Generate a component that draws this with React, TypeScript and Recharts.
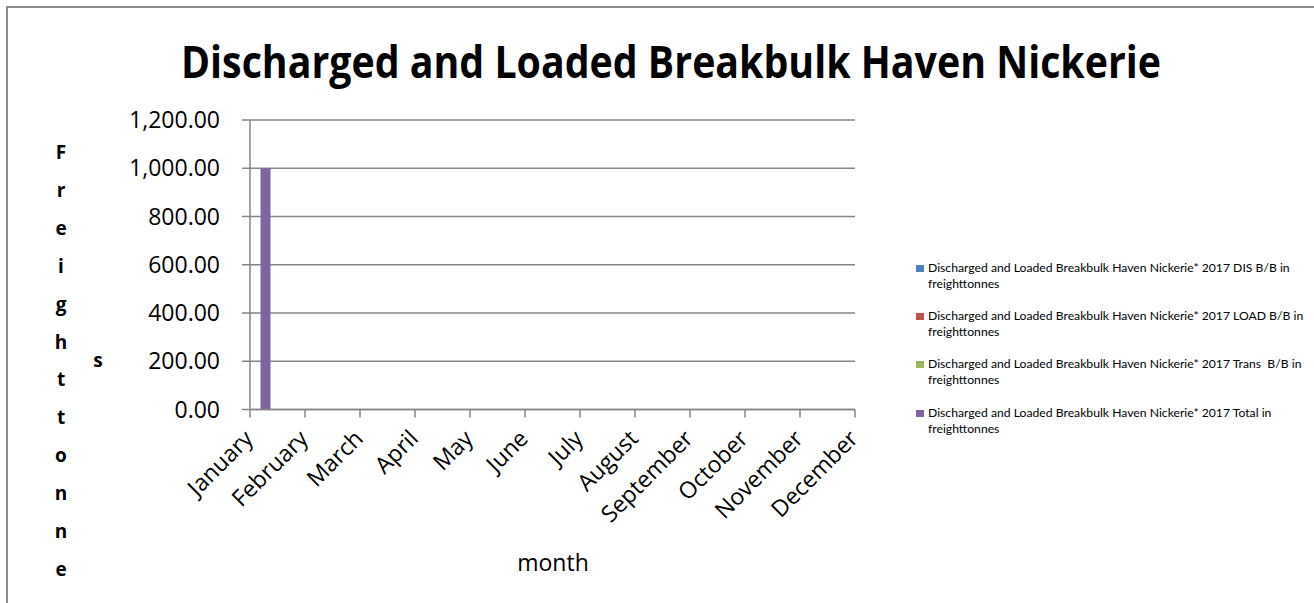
import { BarChart, Bar, XAxis, YAxis, CartesianGrid, Legend, Label } from 'recharts';

const months = [
  'January', 'February', 'March', 'April', 'May', 'June',
  'July', 'August', 'September', 'October', 'November', 'December',
];
const disBB = [0, 0, 0, 0, 0, 0, 0, 0, 0, 0, 0, 0];
const loadBB = [0, 0, 0, 0, 0, 0, 0, 0, 0, 0, 0, 0];
const transBB = [0, 0, 0, 0, 0, 0, 0, 0, 0, 0, 0, 0];
const totalBB = [1000, 0, 0, 0, 0, 0, 0, 0, 0, 0, 0, 0];
const yTicks = [0, 200, 400, 600, 800, 1000, 1200];

const seriesNames = [
  'Discharged and Loaded Breakbulk Haven Nickerie* 2017 DIS B/B in freighttonnes',
  'Discharged and Loaded Breakbulk Haven Nickerie* 2017 LOAD B/B in freighttonnes',
  'Discharged and Loaded Breakbulk Haven Nickerie* 2017 Trans  B/B in freighttonnes',
  'Discharged and Loaded Breakbulk Haven Nickerie* 2017 Total in freighttonnes',
];
const colors = ['#4F81BD', '#C0504D', '#9BBB59', '#8064A2'];

const title = 'Discharged and Loaded Breakbulk Haven Nickerie';
const yTitle = 'Freighttonne';

const data = months.map((m, i) => ({
  idx: i,
  month: m,
  dis: disBB[i],
  load: loadBB[i],
  trans: transBB[i],
  total: totalBB[i],
}));

const FONT = "'Open Sans', sans-serif";
const GRID = '#868686';

const fmt = (v: number) =>
  v.toLocaleString('en-US', { minimumFractionDigits: 2, maximumFractionDigits: 2 });

function MonthTick({ x, y, payload }: any) {
  const ax = x + 4.5;
  const ay = y + 22.5;
  return (
    <text
      x={ax}
      y={ay}
      textAnchor="end"
      transform={`rotate(-45 ${ax} ${ay})`}
      fontSize={23}
      fontFamily={FONT}
      fill="#000"
    >
      {months[payload.value]}
    </text>
  );
}

function LegendBox({ payload }: any) {
  // keep series order (recharts sorts legend items by name otherwise)
  const items = [...(payload || [])].sort(
    (a: any, b: any) => seriesNames.indexOf(a.value) - seriesNames.indexOf(b.value)
  );
  return (
    <div style={{ fontFamily: "Lato, sans-serif", fontSize: 12.2, lineHeight: '16px', color: '#000' }}>
      {items.map((p: any, i: number) => {
        const name = String(p.value);
        const cut = name.lastIndexOf(' ');
        return (
          <div key={i} style={{ position: 'relative', paddingLeft: 12, marginBottom: 16.2, whiteSpace: 'pre' }}>
            <span
              style={{
                position: 'absolute', left: 0, top: 5, width: 8, height: 7,
                background: p.color,
              }}
            />
            <div>{name.slice(0, cut)}</div>
            <div>{name.slice(cut + 1)}</div>
          </div>
        );
      })}
    </div>
  );
}

export default function App() {
  return (
    <div style={{ position: 'absolute', left: 0, top: 0, width: 1314, height: 603, overflow: 'hidden', background: '#fff' }}>
      <div
        style={{
          position: 'absolute', left: 6, top: 6, width: 1400, height: 700,
          border: '2px solid #8c8c8c', boxSizing: 'border-box',
        }}
      />
      <svg style={{ position: 'absolute', left: 0, top: 0 }} width={1314} height={100}>
        <text
          x={181}
          y={78}
          fontSize={45}
          fontWeight={700}
          fontFamily={FONT}
          textLength={980}
          lengthAdjust="spacingAndGlyphs"
          fill="#000"
        >
          {title}
        </text>
      </svg>
      <div style={{ position: 'absolute', left: 0, top: 0 }}>
        <BarChart
          width={1314}
          height={603}
          data={data}
          barGap={0}
          margin={{ top: 120, right: 459, bottom: 133.5, left: 150 }}
        >
          <CartesianGrid vertical={false} stroke={GRID} strokeWidth={1.5} />
          <XAxis
            dataKey="idx"
            type="number"
            domain={[0, 11]}
            ticks={months.map((_, i) => i)}
            interval={0}
            height={60}
            stroke={GRID}
            strokeWidth={1.5}
            tickSize={8}
            tickMargin={0}
            tickLine={{ stroke: GRID, strokeWidth: 1.5 }}
            tick={<MonthTick />}
          >
            <Label
              content={() => (
                <text x={553} y={571} textAnchor="middle" fontSize={23} fontFamily={FONT} fill="#000">
                  month
                </text>
              )}
            />
          </XAxis>
          <YAxis
            width={100}
            domain={[0, 1200]}
            ticks={yTicks}
            interval={0}
            stroke={GRID}
            strokeWidth={1.5}
            tickSize={8}
            tickMargin={22}
            tickLine={{ stroke: GRID, strokeWidth: 1.5 }}
            tick={{ fontSize: 23, fontFamily: FONT, fill: '#000' }}
            tickFormatter={fmt}
          >
            <Label
              content={() => (
                <g fontFamily={FONT} fontWeight={700} fontSize={19} fill="#000" textAnchor="middle">
                  {yTitle.split('').map((ch, i) => (
                    <text key={i} x={61} y={159 + i * 37.9}>
                      {ch}
                    </text>
                  ))}
                  <text x={98} y={367}>s</text>
                </g>
              )}
            />
          </YAxis>
          <Legend
            layout="vertical"
            align="center"
            verticalAlign="middle"
            wrapperStyle={{ left: 916, top: 260, width: 395 }}
            content={<LegendBox />}
          />
          <Bar dataKey="dis" name={seriesNames[0]} fill={colors[0]} barSize={10} isAnimationActive={false} />
          <Bar dataKey="load" name={seriesNames[1]} fill={colors[1]} barSize={10} isAnimationActive={false} />
          <Bar dataKey="trans" name={seriesNames[2]} fill={colors[2]} barSize={10} isAnimationActive={false} />
          <Bar dataKey="total" name={seriesNames[3]} fill={colors[3]} barSize={10} isAnimationActive={false} />
        </BarChart>
      </div>
    </div>
  );
}
